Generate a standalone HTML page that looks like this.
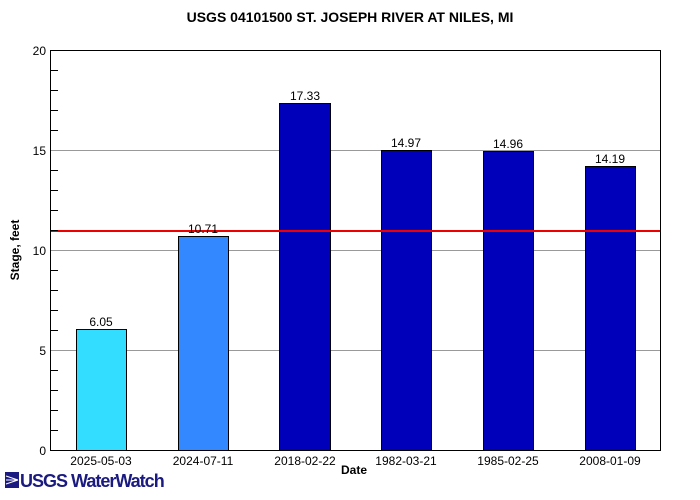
<!DOCTYPE html>
<html><head><style>body{margin:0;background:#fff}svg{display:block}</style></head><body>
<svg width="700" height="500" xmlns="http://www.w3.org/2000/svg" font-family="Liberation Sans, sans-serif">
<rect width="700" height="500" fill="#fff"/>
<text x="350" y="22" text-anchor="middle" font-size="14" font-weight="bold">USGS 04101500 ST. JOSEPH RIVER AT NILES, MI</text>
<g stroke="#999" stroke-width="1">
<line x1="50" x2="660" y1="350.5" y2="350.5"/><line x1="50" x2="660" y1="250.5" y2="250.5"/><line x1="50" x2="660" y1="150.5" y2="150.5"/>
</g>
<g stroke="#000" stroke-width="1">
<rect x="76.5" y="329.5" width="50" height="121" fill="#33ddff"/>
<rect x="178.5" y="236.5" width="50" height="214" fill="#3388ff"/>
<rect x="279.5" y="103.5" width="51" height="347" fill="#0000bb"/>
<rect x="381.5" y="150.5" width="50" height="300" fill="#0000bb"/>
<rect x="483.5" y="151.5" width="50" height="299" fill="#0000bb"/>
<rect x="585.5" y="166.5" width="50" height="284" fill="#0000bb"/>
</g>
<line x1="50" x2="660" y1="231" y2="231" stroke="#e00" stroke-width="2"/>
<rect x="50.5" y="50.5" width="610" height="400" fill="none" stroke="#000"/>
<g stroke="#000">
<path d="M50 70.5h8M50 90.5h8M50 110.5h8M50 130.5h8M50 170.5h8M50 190.5h8M50 210.5h8M50 230.5h8M50 270.5h8M50 290.5h8M50 310.5h8M50 330.5h8M50 370.5h8M50 390.5h8M50 410.5h8M50 430.5h8"/>
</g>
<g font-size="12" text-anchor="end">
<text x="46" y="55">20</text><text x="46" y="155">15</text><text x="46" y="255">10</text><text x="46" y="355">5</text><text x="46" y="455">0</text>
</g>
<g font-size="12" text-anchor="middle">
<text x="101" y="326">6.05</text><text x="203" y="233">10.71</text><text x="305" y="100">17.33</text>
<text x="406" y="147">14.97</text><text x="508" y="148">14.96</text><text x="610" y="163">14.19</text>
<text x="101" y="465">2025-05-03</text><text x="203" y="465">2024-07-11</text><text x="305" y="465">2018-02-22</text>
<text x="406" y="465">1982-03-21</text><text x="508" y="465">1985-02-25</text><text x="610" y="465">2008-01-09</text>
</g>
<text x="354" y="474" font-size="12" font-weight="bold" text-anchor="middle">Date</text>
<text transform="translate(19,250) rotate(-90)" font-size="12" font-weight="bold" text-anchor="middle">Stage, feet</text>
<g fill="#1a1a80">
<path d="M5 472h14v16h-14z"/>
<text x="20" y="487" font-size="18" font-weight="bold" letter-spacing="-1">USGS WaterWatch</text>
</g>
<path d="M6 476l12 4M6 480l12 0M6 484l12-4" stroke="#fff" stroke-width="1"/>
</svg>
</body></html>
